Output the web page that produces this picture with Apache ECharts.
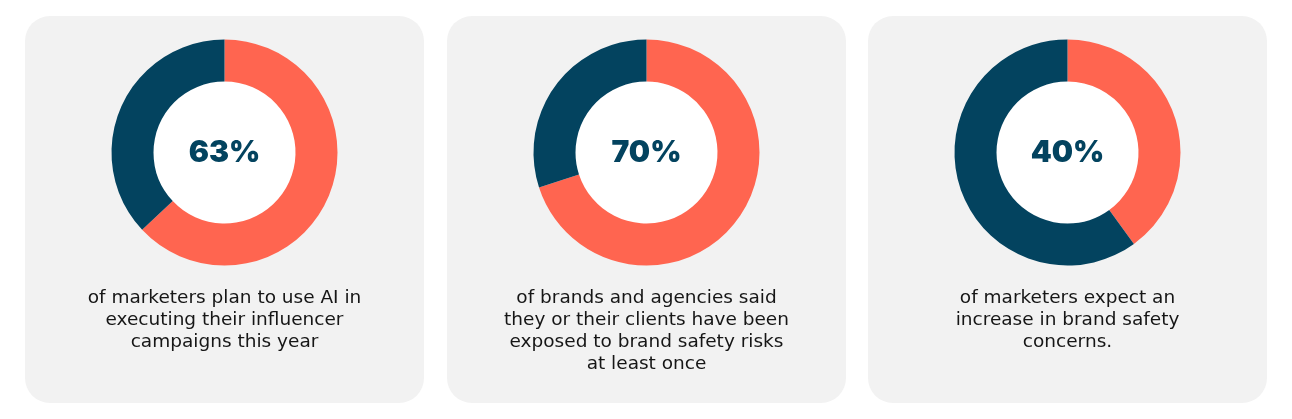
<!DOCTYPE html>
<html><head><meta charset="utf-8">
<script src="https://cdn.jsdelivr.net/npm/echarts@6/dist/echarts.min.js"></script>
<style>html,body{margin:0;padding:0;background:#fff}#c{width:1292px;height:419px}</style>
</head><body><div id="c"></div>
<script>
const percents = [63, 70, 40];
const percentLabels = ['63%', '70%', '40%'];
const captions = [
  'of marketers plan to use AI in\nexecuting their influencer\ncampaigns this year',
  'of brands and agencies said\nthey or their clients have been\nexposed to brand safety risks\nat least once',
  'of marketers expect an\nincrease in brand safety\nconcerns.'
];
const sliceNames = ['Yes', 'Other'];

const CORAL = '#ff6550', NAVY = '#03435f';
const cardLefts = [25, 447, 868];
const cardW = 399, cardTop = 16, cardH = 387;

const chart = echarts.init(document.getElementById('c'), null, {renderer: 'canvas'});
const graphic = [];
const series = [];
percents.forEach((p, i) => {
  const cx = cardLefts[i] + cardW / 2;
  graphic.push({type: 'rect', z: -10, silent: true,
    shape: {x: cardLefts[i], y: cardTop, width: cardW, height: cardH, r: 25},
    style: {fill: '#f2f2f2'}});
  graphic.push({type: 'circle', z: -5, silent: true,
    shape: {cx: cx, cy: 152.5, r: 72}, style: {fill: '#ffffff'}});
  graphic.push({type: 'text', z: 10, silent: true, x: cx, y: 287,
    style: {text: captions[i], fill: '#161616', font: 'normal 18.5px "DejaVu Sans", sans-serif',
      align: 'center', verticalAlign: 'top', lineHeight: 22}});
  series.push({
    type: 'pie', center: [cx, 152.5], radius: [71, 113], startAngle: 90, clockwise: true,
    silent: true, avoidLabelOverlap: false,
    label: {show: true, position: 'center', formatter: () => percentLabels[i],
      color: NAVY, fontSize: 30, fontWeight: 900, fontFamily: 'Inter, sans-serif'},
    labelLine: {show: false},
    itemStyle: {borderWidth: 0},
    data: [
      {name: sliceNames[0], value: p, itemStyle: {color: CORAL},
        label: {show: true}},
      {name: sliceNames[1], value: 100 - p, itemStyle: {color: NAVY},
        label: {show: false}}
    ]
  });
});
chart.setOption({animation: false, backgroundColor: '#ffffff', graphic: graphic, series: series});
</script></body></html>
